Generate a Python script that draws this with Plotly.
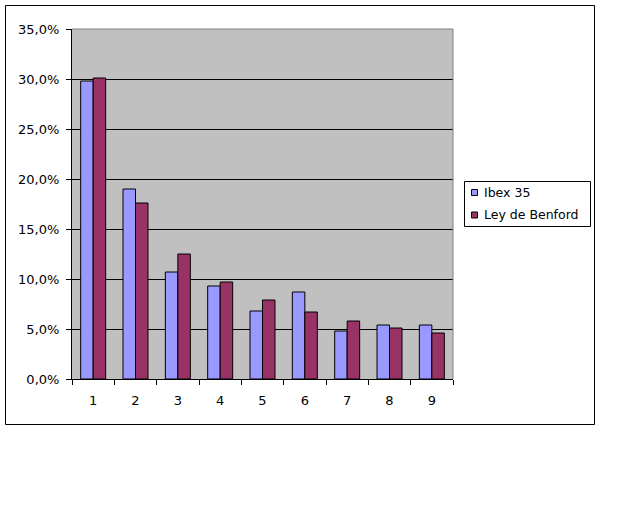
import plotly.graph_objects as go

categories = ["1", "2", "3", "4", "5", "6", "7", "8", "9"]
ibex35 = [0.298, 0.190, 0.107, 0.093, 0.068, 0.087, 0.048, 0.054, 0.054]
benford = [0.301, 0.176, 0.125, 0.097, 0.079, 0.067, 0.058, 0.051, 0.046]
series_names = ["Ibex 35", "Ley de Benford"]
series_colors = ["#9999FF", "#993366"]

FAM = "DejaVu Sans, Verdana, sans-serif"
font = dict(family=FAM, size=13, color="black")
leg_font = dict(family=FAM, size=12.5, color="black")

fig = go.Figure()
for name, vals, col in zip(series_names, [ibex35, benford], series_colors):
    fig.add_trace(go.Bar(x=categories, y=vals, name=name, showlegend=False,
                         marker=dict(color=col, line=dict(color="black", width=1))))

L, T, R, B = 72, 29, 187, 133
W, H = 640, 512
pw, ph = W - L - R, H - T - B

def px(x):
    return (x - L) / pw

def py(y):
    return (H - B - y) / ph

shapes = [
    dict(type="rect", xref="paper", yref="paper",
         x0=px(5.5), x1=px(594.5), y0=py(424.5), y1=py(5.5),
         line=dict(color="black", width=1), layer="below"),
    dict(type="line", xref="paper", yref="paper", x0=0, x1=1, y0=1, y1=1,
         line=dict(color="#808080", width=1)),
    dict(type="line", xref="paper", yref="paper", x0=1, x1=1, y0=0, y1=1,
         line=dict(color="#808080", width=1)),
    # legend box
    dict(type="rect", xref="paper", yref="paper",
         x0=px(464.5), x1=px(590.5), y0=py(226.5), y1=py(181.5),
         line=dict(color="black", width=1), fillcolor="white"),
]
annotations = []
leg_y = [192.5, 215]
for name, col, yc in zip(series_names, series_colors, leg_y):
    shapes.append(dict(type="rect", xref="paper", yref="paper",
                       x0=px(471.5), x1=px(477.5), y0=py(yc + 3), y1=py(yc - 3),
                       line=dict(color="black", width=1), fillcolor=col))
    annotations.append(dict(text=name, xref="paper", yref="paper",
                            x=px(482), y=py(yc), xanchor="left", yanchor="middle",
                            showarrow=False, font=leg_font))

fig.update_layout(
    width=W, height=H,
    margin=dict(l=L, r=R, t=T, b=B, pad=0),
    paper_bgcolor="white",
    plot_bgcolor="#C0C0C0",
    font=font,
    separators=",.",
    barmode="group",
    bargap=0.41,
    bargroupgap=0,
    showlegend=False,
    xaxis=dict(type="category", showline=True, linecolor="black", linewidth=1,
               ticks="outside", ticklen=5, tickcolor="black", tickson="boundaries",
               ticklabelstandoff=9, showgrid=False, fixedrange=True),
    yaxis=dict(range=[0, 0.35], dtick=0.05, tickformat=".1%",
               showline=True, linecolor="black", linewidth=1,
               ticks="outside", ticklen=5, tickcolor="black", ticklabelstandoff=4,
               showgrid=True, gridcolor="black", gridwidth=1, zeroline=False,
               fixedrange=True),
    shapes=shapes,
    annotations=annotations,
)

fig.write_html("out.html", config={"displayModeBar": False},
               post_script="document.body.style.margin='0';document.body.style.padding='0';")
